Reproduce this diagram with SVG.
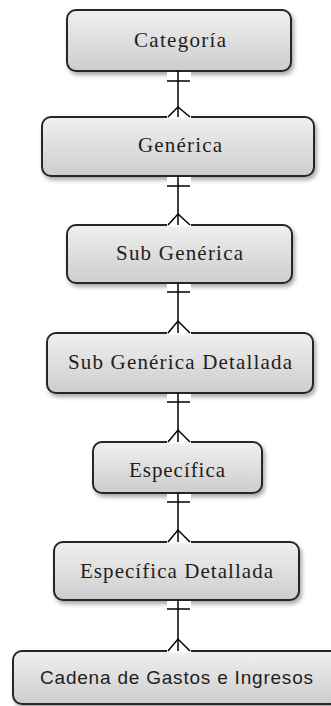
<svg xmlns="http://www.w3.org/2000/svg" width="331" height="706" viewBox="0 0 331 706">
<defs>
<linearGradient id="g" x1="0" y1="0" x2="0" y2="1">
<stop offset="0" stop-color="#f0f0f0"/>
<stop offset="1" stop-color="#cdcdcd"/>
</linearGradient>
<filter id="sh" x="-10%" y="-20%" width="125%" height="150%">
<feDropShadow dx="2" dy="3" stdDeviation="2" flood-color="#000" flood-opacity="0.35"/>
</filter>
</defs>
<style>
.box{fill:url(#g);stroke:#262626;stroke-width:2;filter:url(#sh)}
.t{font-family:"Liberation Serif","Times New Roman",serif;font-size:21px;fill:#1e1e1e;text-anchor:middle}
.s{font-family:"Liberation Sans",Arial,sans-serif;font-size:19px;fill:#1e1e1e;text-anchor:middle}
.c{stroke:#000;stroke-width:1.5;fill:none}
.gap{fill:#fff;stroke:none}
</style>
<g id="categoria">
<rect class="box" x="67" y="10" width="224" height="61" rx="9"/>
<text class="t" x="180" y="47" textLength="92" lengthAdjust="spacing">Categoría</text>
</g>
<g id="generica">
<rect class="box" x="42" y="117" width="272" height="59" rx="9"/>
<text class="t" x="180" y="152" textLength="84" lengthAdjust="spacing">Genérica</text>
</g>
<g id="sub-generica">
<rect class="box" x="67" y="225" width="225" height="58" rx="9"/>
<text class="t" x="179.5" y="260" textLength="127" lengthAdjust="spacing">Sub Genérica</text>
</g>
<g id="sub-generica-detallada">
<rect class="box" x="47" y="333" width="266" height="60" rx="9"/>
<text class="t" x="180" y="369" textLength="224" lengthAdjust="spacing">Sub Genérica Detallada</text>
</g>
<g id="especifica">
<rect class="box" x="93" y="442" width="169" height="51" rx="9"/>
<text class="t" x="177" y="477" textLength="96" lengthAdjust="spacing">Específica</text>
</g>
<g id="especifica-detallada">
<rect class="box" x="54" y="542" width="245" height="58" rx="9"/>
<text class="t" x="176.5" y="578" textLength="193" lengthAdjust="spacing">Específica Detallada</text>
</g>
<g id="cadena">
<rect class="box" x="13" y="651" width="334" height="53" rx="9"/>
<text class="s" x="176.5" y="684" textLength="273" lengthAdjust="spacing">Cadena de Gastos e Ingresos</text>
</g>
<g id="connectors">
<rect class="gap" x="167" y="72" width="24" height="8"/>
<rect class="gap" x="167" y="115.5" width="24" height="3"/>
<line class="c" x1="178" y1="71" x2="178" y2="117"/>
<line class="c" x1="167" y1="81" x2="190" y2="81"/>
<polyline class="c" points="168,117 178,107 190,117"/>

<rect class="gap" x="167" y="177" width="24" height="8"/>
<rect class="gap" x="167" y="223.5" width="24" height="3"/>
<line class="c" x1="178" y1="176" x2="178" y2="225"/>
<line class="c" x1="167" y1="186" x2="190" y2="186"/>
<polyline class="c" points="168,225 178,214 190,225"/>

<rect class="gap" x="167" y="284" width="24" height="8"/>
<rect class="gap" x="167" y="331.5" width="24" height="3"/>
<line class="c" x1="178" y1="283" x2="178" y2="333"/>
<line class="c" x1="167" y1="292" x2="190" y2="292"/>
<polyline class="c" points="168,333 178,321 190,333"/>

<rect class="gap" x="167" y="394" width="24" height="8"/>
<rect class="gap" x="167" y="440.5" width="24" height="3"/>
<line class="c" x1="178" y1="393" x2="178" y2="442"/>
<line class="c" x1="167" y1="402" x2="190" y2="402"/>
<polyline class="c" points="168,442 178,430 190,442"/>

<rect class="gap" x="167" y="494" width="24" height="8"/>
<rect class="gap" x="167" y="540.5" width="24" height="3"/>
<line class="c" x1="178" y1="493" x2="178" y2="542"/>
<line class="c" x1="167" y1="502" x2="190" y2="502"/>
<polyline class="c" points="168,542 178,530 190,542"/>

<rect class="gap" x="167" y="601" width="24" height="8"/>
<rect class="gap" x="167" y="649.5" width="24" height="3"/>
<line class="c" x1="178" y1="600" x2="178" y2="651"/>
<line class="c" x1="167" y1="609" x2="190" y2="609"/>
<polyline class="c" points="168,651 178,639 190,651"/>
</g>
</svg>
